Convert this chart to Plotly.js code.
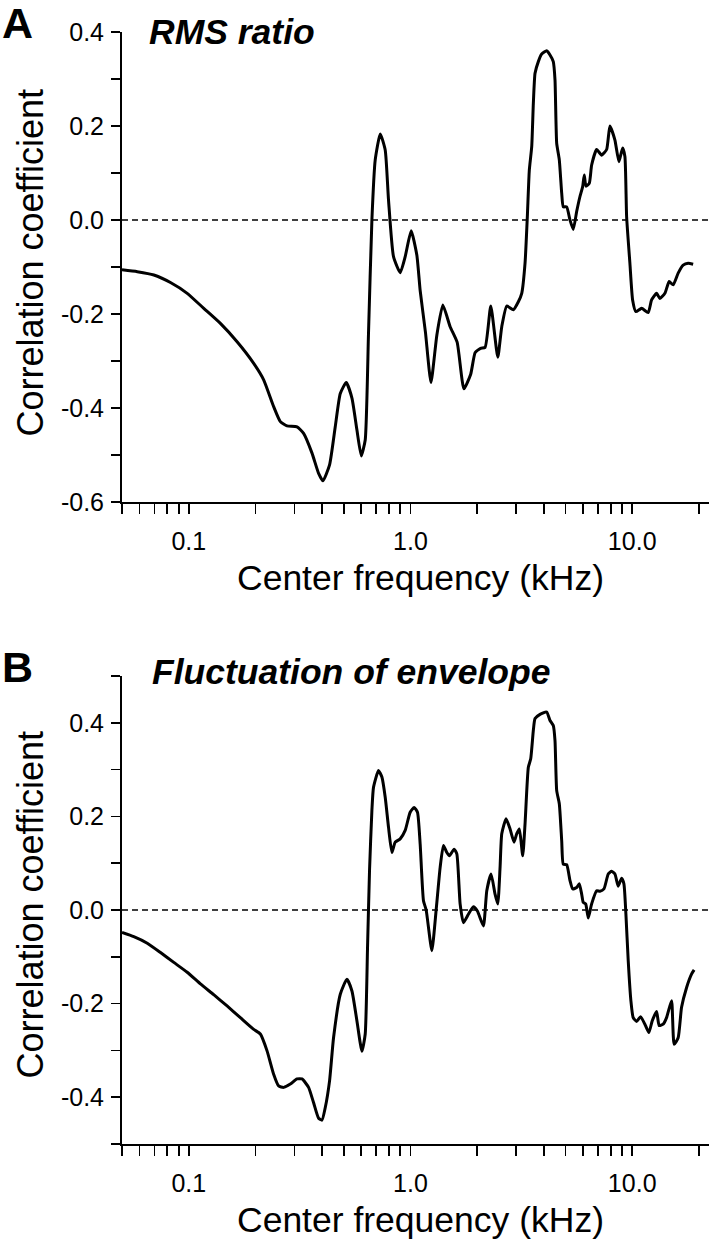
<!DOCTYPE html>
<html>
<head>
<meta charset="utf-8">
<script src="https://cdn.plot.ly/plotly-3.0.1.min.js"></script>
<style>
  html, body { margin: 0; padding: 0; background: #fff; }
  #chart { width: 709px; height: 1245px; }
</style>
</head>
<body>
<div id="chart"></div>
<script>
// ---------- Data (center frequency in kHz, correlation coefficient) ----------
const freqA = [0.05, 0.0586, 0.0696, 0.0827, 0.0984, 0.1169, 0.1389, 0.1652, 0.1963, 0.2177,
  0.2415, 0.2589, 0.2774, 0.3078, 0.3296, 0.3597, 0.3851, 0.4031, 0.4316, 0.4578,
  0.4824, 0.5133, 0.5445, 0.5735, 0.5997, 0.625, 0.6467, 0.6699, 0.6934, 0.7305,
  0.7692, 0.796, 0.8385, 0.8989, 0.9465, 1.0073, 1.0686, 1.1058, 1.1684, 1.237,
  1.315, 1.3994, 1.5097, 1.6234, 1.7418, 1.8691, 1.9582, 2.0713, 2.1703, 2.3023,
  2.476, 2.5804, 2.7184, 2.9107, 3.0655, 3.1755, 3.2863, 3.3651, 3.4356, 3.5222,
  3.5819, 3.6453, 3.7725, 3.9076, 4.1153, 4.2588, 4.4066, 4.4853, 4.5656, 4.6904,
  4.8085, 4.8889, 5.0641, 5.2407, 5.4226, 5.617, 5.8128, 5.9784, 6.0783, 6.1857,
  6.4017, 6.5629, 6.9117, 7.2807, 7.6677, 7.9341, 8.3573, 8.7113, 9.0528, 9.2704,
  9.4363, 9.7634, 10.042, 10.392, 11.023, 11.806, 12.231, 12.882, 13.331, 14.041,
  14.682, 15.303, 16.117, 16.974, 17.88, 18.831];
const rmsRatio = [-0.106, -0.110, -0.117, -0.133, -0.156, -0.188, -0.220, -0.259, -0.305, -0.340,
  -0.397, -0.429, -0.438, -0.440, -0.454, -0.496, -0.539, -0.555, -0.521, -0.440,
  -0.369, -0.346, -0.379, -0.447, -0.502, -0.468, -0.241, 0.000, 0.128, 0.183,
  0.149, 0.043, -0.078, -0.112, -0.078, -0.023, -0.075, -0.150, -0.239, -0.346,
  -0.245, -0.181, -0.227, -0.260, -0.359, -0.328, -0.282, -0.273, -0.271, -0.183,
  -0.292, -0.227, -0.183, -0.191, -0.174, -0.156, -0.092, 0.007, 0.106, 0.156,
  0.248, 0.312, 0.337, 0.353, 0.360, 0.351, 0.337, 0.298, 0.163, 0.128,
  0.057, 0.028, 0.028, 0.000, -0.020, 0.018, 0.050, 0.071, 0.096, 0.072,
  0.078, 0.117, 0.150, 0.138, 0.150, 0.200, 0.170, 0.124, 0.153, 0.135,
  0.007, -0.092, -0.170, -0.195, -0.188, -0.197, -0.170, -0.156, -0.167, -0.156,
  -0.131, -0.138, -0.113, -0.096, -0.092, -0.094];

const freqB = [0.05, 0.0565, 0.065, 0.0746, 0.0856, 0.0984, 0.1129, 0.1296, 0.1489, 0.1709,
  0.1963, 0.2104, 0.2255, 0.2415, 0.2543, 0.2679, 0.2871, 0.3078, 0.3242, 0.3471,
  0.3657, 0.3851, 0.399, 0.4128, 0.4316, 0.4498, 0.4824, 0.517, 0.5445, 0.5735,
  0.604, 0.625, 0.6402, 0.6536, 0.6699, 0.6811, 0.7175, 0.7432, 0.7692, 0.796,
  0.8245, 0.8533, 0.8989, 0.9465, 0.9968, 1.0392, 1.0753, 1.1058, 1.1443, 1.177,
  1.2486, 1.3056, 1.3609, 1.408, 1.4588, 1.4986, 1.5732, 1.6181, 1.6746, 1.7326,
  1.825, 1.922, 2.0035, 2.133, 2.2087, 2.3095, 2.4071, 2.4756, 2.5355, 2.5804,
  2.6988, 2.8131, 2.9315, 3.015, 3.0974, 3.2084, 3.2863, 3.4004, 3.4859, 3.5819,
  3.6453, 3.8389, 4.1153, 4.2588, 4.4066, 4.4853, 4.5656, 4.6904, 4.8085, 4.8889,
  5.0641, 5.2407, 5.389, 5.617, 5.7695, 5.917, 6.0161, 6.1674, 6.3357, 6.5629,
  6.9117, 7.1548, 7.4577, 7.7977, 8.0771, 8.3573, 8.6471, 8.9596, 9.1749, 9.367,
  9.594, 9.8652, 10.104, 10.466, 10.909, 11.407, 11.89, 12.305, 12.882, 13.234,
  13.794, 14.289, 15.048, 15.459, 16.117, 16.695, 17.579, 18.516, 19.022];
const envFluct = [-0.048, -0.057, -0.071, -0.091, -0.112, -0.133, -0.158, -0.181, -0.205, -0.230,
  -0.255, -0.265, -0.301, -0.351, -0.376, -0.379, -0.372, -0.361, -0.361, -0.379,
  -0.412, -0.445, -0.449, -0.422, -0.365, -0.273, -0.180, -0.148, -0.173, -0.237,
  -0.302, -0.265, -0.080, 0.084, 0.213, 0.262, 0.298, 0.284, 0.241, 0.177,
  0.123, 0.145, 0.152, 0.170, 0.209, 0.219, 0.209, 0.141, 0.020, 0.000,
  -0.087, 0.000, 0.091, 0.138, 0.123, 0.116, 0.130, 0.120, 0.013, -0.027,
  -0.009, 0.007, -0.002, -0.034, 0.041, 0.077, 0.034, 0.013, 0.091, 0.163,
  0.195, 0.173, 0.145, 0.163, 0.173, 0.116, 0.184, 0.305, 0.323, 0.384,
  0.409, 0.418, 0.423, 0.405, 0.394, 0.362, 0.255, 0.227, 0.148, 0.098,
  0.097, 0.063, 0.045, 0.048, 0.056, 0.034, 0.016, 0.013, -0.017, 0.013,
  0.041, 0.040, 0.045, 0.077, 0.083, 0.077, 0.051, 0.068, 0.056, -0.009,
  -0.108, -0.194, -0.230, -0.238, -0.228, -0.244, -0.262, -0.237, -0.217, -0.247,
  -0.244, -0.230, -0.194, -0.287, -0.273, -0.208, -0.166, -0.137, -0.128];

// Tick definitions
const xTickVals = [0.05, 0.06, 0.07, 0.08, 0.09, 0.1, 0.2, 0.3, 0.4, 0.5, 0.6, 0.7, 0.8, 0.9,
  1, 2, 3, 4, 5, 6, 7, 8, 9, 10, 20];
const xTickText = ['', '', '', '', '', '0.1', '', '', '', '', '', '', '', '',
  '1.0', '', '', '', '', '', '', '', '', '10.0', ''];
const yTickValsA = [-0.6, -0.5, -0.4, -0.3, -0.2, -0.1, 0, 0.1, 0.2, 0.3, 0.4];
const yTickTextA = ['-0.6', '', '-0.4', '', '-0.2', '', '0.0', '', '0.2', '', '0.4'];
const yTickValsB = [-0.5, -0.4, -0.3, -0.2, -0.1, 0, 0.1, 0.2, 0.3, 0.4, 0.5];
const yTickTextB = ['', '-0.4', '', '-0.2', '', '0.0', '', '0.2', '', '0.4', ''];

const panelTitles = ['RMS ratio', 'Fluctuation of envelope'];
const panelLetters = ['A', 'B'];
const xTitle = 'Center frequency (kHz)';
const yTitle = 'Correlation coefficient';

// ---------- Layout helpers ----------
const W = 709, H = 1245;
const FONT = 'Liberation Sans, Arial, Helvetica, sans-serif';
const px2x = p => p / W;
const px2y = p => 1 - p / H;

const lineStyle = { color: '#000', width: 3, shape: 'spline', smoothing: 0.5 };

const traces = [
  { x: freqA, y: rmsRatio, type: 'scatter', mode: 'lines', line: lineStyle, xaxis: 'x', yaxis: 'y', hoverinfo: 'skip' },
  { x: freqB, y: envFluct, type: 'scatter', mode: 'lines', line: lineStyle, xaxis: 'x2', yaxis: 'y2', hoverinfo: 'skip' }
];

const xRange = [Math.log10(0.05), Math.log10(22.2)];
function xAxis(anchor) {
  return {
    type: 'log', range: xRange, domain: [px2x(122), 1], anchor: anchor,
    tickmode: 'array', tickvals: xTickVals, ticktext: xTickText,
    ticks: 'outside', ticklen: 10, tickwidth: 1.8, tickcolor: '#000',
    ticklabelstandoff: 6,
    showline: true, linecolor: '#000', linewidth: 2,
    showgrid: false, zeroline: false,
    tickfont: { family: FONT, size: 25, color: '#000' }
  };
}
function yAxis(anchor, range, dom, vals, text) {
  return {
    range: range, domain: dom, anchor: anchor,
    tickmode: 'array', tickvals: vals, ticktext: text,
    ticks: 'outside', ticklen: 9, tickwidth: 1.8, tickcolor: '#000',
    ticklabelstandoff: 2,
    showline: true, linecolor: '#000', linewidth: 2,
    showgrid: false, zeroline: false,
    tickfont: { family: FONT, size: 25, color: '#000' }
  };
}

const domA = [px2y(502), px2y(32)];
const domB = [px2y(1144), px2y(676)];

const layout = {
  width: W, height: H,
  margin: { l: 0, r: 0, t: 0, b: 0 },
  paper_bgcolor: '#fff', plot_bgcolor: '#fff',
  showlegend: false,
  font: { family: FONT, color: '#000' },
  xaxis: xAxis('y'),
  yaxis: yAxis('x', [-0.6, 0.4], domA, yTickValsA, yTickTextA),
  xaxis2: xAxis('y2'),
  yaxis2: yAxis('x2', [-0.5, 0.5], domB, yTickValsB, yTickTextB),
  shapes: [
    { type: 'line', xref: 'x domain', yref: 'y', x0: 0, x1: 1, y0: 0, y1: 0,
      line: { color: '#000', width: 1.6, dash: '6px,4px' } },
    { type: 'line', xref: 'x2 domain', yref: 'y2', x0: 0, x1: 1, y0: 0, y1: 0,
      line: { color: '#000', width: 1.6, dash: '6px,4px' } }
  ],
  annotations: [
    { text: panelLetters[0], xref: 'paper', yref: 'paper', x: 0, y: px2y(23), xanchor: 'left', yanchor: 'middle',
      showarrow: false, font: { family: FONT, size: 43, weight: 'bold', color: '#000' } },
    { text: panelLetters[1], xref: 'paper', yref: 'paper', x: 0, y: px2y(667), xanchor: 'left', yanchor: 'middle',
      showarrow: false, font: { family: FONT, size: 43, weight: 'bold', color: '#000' } },
    { text: panelTitles[0], xref: 'paper', yref: 'paper', x: px2x(147), y: px2y(32), xanchor: 'left', yanchor: 'middle',
      showarrow: false, font: { family: FONT, size: 35.5, weight: 'bold', style: 'italic', color: '#000' } },
    { text: panelTitles[1], xref: 'paper', yref: 'paper', x: px2x(150), y: px2y(672), xanchor: 'left', yanchor: 'middle',
      showarrow: false, font: { family: FONT, size: 35.5, weight: 'bold', style: 'italic', color: '#000' } },
    { text: xTitle, xref: 'paper', yref: 'paper', x: px2x(420), y: px2y(578), xanchor: 'center', yanchor: 'middle',
      showarrow: false, font: { family: FONT, size: 35.5, color: '#000' } },
    { text: xTitle, xref: 'paper', yref: 'paper', x: px2x(420), y: px2y(1220), xanchor: 'center', yanchor: 'middle',
      showarrow: false, font: { family: FONT, size: 35.5, color: '#000' } },
    { text: yTitle, xref: 'paper', yref: 'paper', x: px2x(29.5), y: px2y(263), xanchor: 'center', yanchor: 'middle',
      textangle: -90, showarrow: false, font: { family: FONT, size: 36, color: '#000' } },
    { text: yTitle, xref: 'paper', yref: 'paper', x: px2x(29.5), y: px2y(905), xanchor: 'center', yanchor: 'middle',
      textangle: -90, showarrow: false, font: { family: FONT, size: 36, color: '#000' } }
  ]
};

Plotly.newPlot('chart', traces, layout, { displayModeBar: false, staticPlot: true });
</script>
</body>
</html>
